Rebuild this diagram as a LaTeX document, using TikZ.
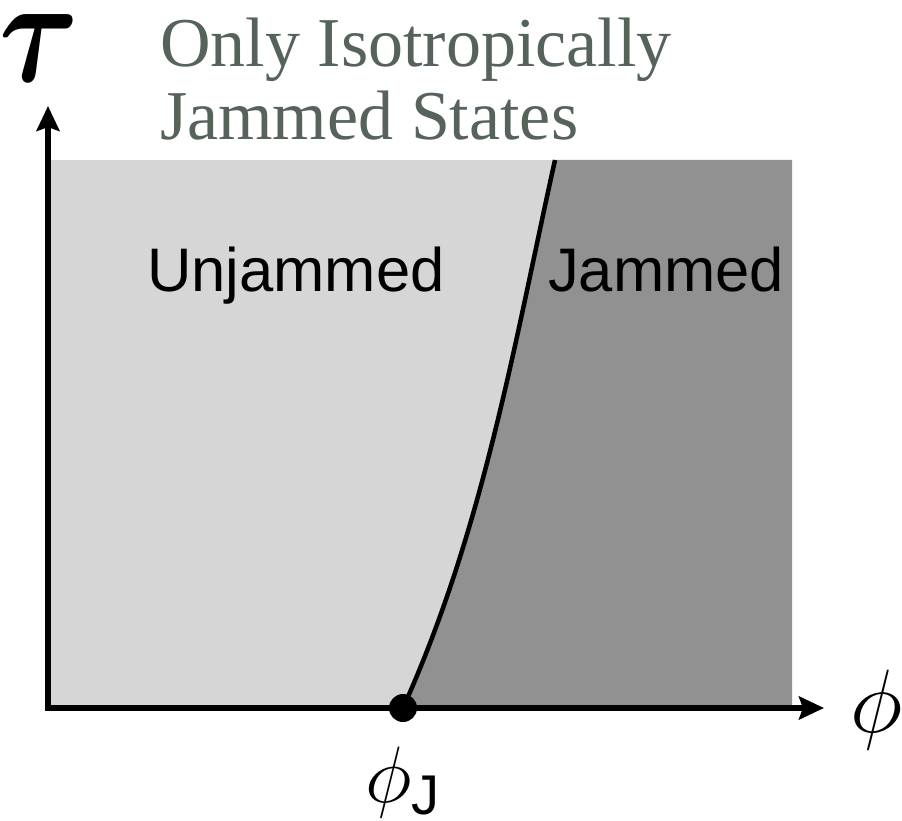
\RequirePackage{fix-cm}
\documentclass[tikz,border=0pt]{standalone}
\usepackage{amsmath}
\usepackage{fontspec}
\setmainfont{Liberation Serif}
\newfontfamily\helv{Liberation Sans}
\usepackage{tikz}
\usetikzlibrary{arrows.meta,positioning,calc}
\definecolor{unjamFill}{HTML}{D6D6D6}
\definecolor{jamFill}{HTML}{919191}
\definecolor{isoGray}{HTML}{56635A}

\tikzset{
  axis/.style={line width=5.5pt,-{Stealth[length=25pt,width=23pt,inset=4pt]}},
  phase/.style={font=\helv\fontsize{61.5}{61.5}\selectfont,inner sep=0pt,anchor=base west},
  symb/.style={inner sep=0pt}
}

\begin{document}
\begin{tikzpicture}[x=1pt,y=-1pt]
  \useasboundingbox (0,0) rectangle (902,821);
  % regions
  \coordinate (origin) at (48,708);
  \coordinate (top) at (555,160);
  \fill[unjamFill] (48,160) rectangle (792,708);
  \fill[jamFill] (403,708) .. controls (484,528) and (515,340) .. (top)
    -- (792,160) -- (792,708) -- cycle;
  % axes
  \coordinate (xend) at (824,708);
  \coordinate (yend) at (48,106);
  \draw[axis] ($(origin)+(-2.75,0)$) -- (xend);
  \draw[axis] ($(origin)+(0,2.75)$) -- (yend);
  % jamming line
  \node[circle,fill=black,inner sep=0pt,minimum size=28pt] (phiJdot) at (403,708) {};
  \draw[line width=4.5pt] (phiJdot.center) .. controls (484,528) and (515,340) .. (top);
  % labels
  \node[symb] (tau) at (39,48) {\scalebox{1.05}[1.3]{\fontsize{116}{116}\selectfont$\boldsymbol{\tau}$}};
  \node[symb] (phi) at (877,710) {\fontsize{90}{90}\selectfont$\phi$};
  \node[symb,below=25pt of phiJdot] (phiJ) {\fontsize{80}{80}\selectfont$\phi_{\text{\helv J}}$};
  \node[phase] (unjam) at (147,291) {Unjammed};
  \node[phase] (jam) at (548,291) {Jammed};
  \node[inner sep=0pt,anchor=base west,align=left,text=isoGray,font=\fontsize{70}{73}\selectfont]
    (iso) at (160,140) {Only Isotropically\\Jammed States};
\end{tikzpicture}
\end{document}
